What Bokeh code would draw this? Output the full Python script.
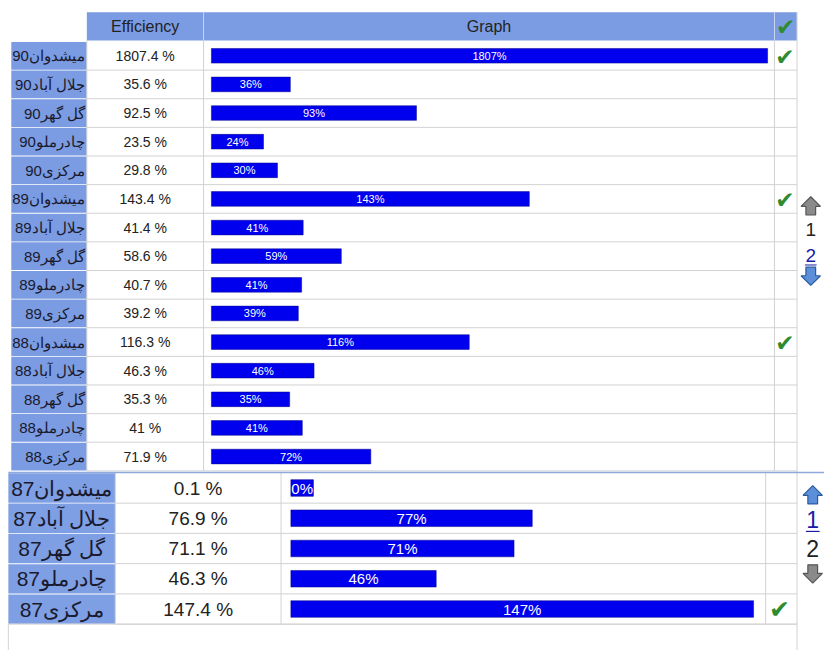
import numpy as np
from bokeh.plotting import figure
from bokeh.models import Range1d, ColumnDataSource
from bokeh.core.properties import value
from bokeh.embed import file_html
from bokeh.resources import INLINE

# ---------------- data ----------------
mines = ["میشدوان", "جلال آباد", "گل گهر", "چادرملو", "مرکزی"]
top_years = [90, 89, 88]
top_eff = [1807.4, 35.6, 92.5, 23.5, 29.8,
           143.4, 41.4, 58.6, 40.7, 39.2,
           116.3, 46.3, 35.3, 41.0, 71.9]
bottom_year = 87
bottom_eff = [0.1, 76.9, 71.1, 46.3, 147.4]
headers = ["Efficiency", "Graph"]
page_labels = ["1", "2"]


def pct(v):
    return f"{int(np.floor(v + 0.5))}%"


# ---------------- layout ----------------
W, H = 824, 650
XMAX, YMAX = 840, 666
p = figure(width=W, height=H, x_range=Range1d(0, XMAX), y_range=Range1d(YMAX, 0),
           output_backend="svg", toolbar_location=None, min_border=0,
           x_axis_location=None, y_axis_location=None)
p.grid.visible = False
p.outline_line_color = None
p.background_fill_color = "white"
p.border_fill_color = "white"

FONT = value("Liberation Sans")
BLUE_BG = "#7b9ce2"
GRID = "#d2d2d2"
BAR = "#0000ee"
TXT = "#222222"
CHECK = "#2e8b2e"

# ---- top table geometry
t_lab0, t_lab1 = 11, 88
t_eff1 = 207
t_chk0, t_chk1 = 789, 812
t_head0, t_head1 = 12, 41
t_row0 = 42
t_rh = 29.33
t_bar0, t_barmax, t_scale = 215, 567, 2.26

n_top = len(top_eff)
t_labels = [m + str(y) for y in top_years for m in mines]
t_cy = t_row0 + t_rh * (np.arange(n_top) + 0.5)
t_end = t_row0 + t_rh * n_top

# header background
p.quad(left=[t_lab1], right=[t_chk1], top=[t_head0], bottom=[t_head1],
       fill_color=BLUE_BG, line_color=None)
p.segment(x0=[t_eff1, t_chk0], x1=[t_eff1, t_chk0], y0=[t_head0] * 2, y1=[t_head1] * 2,
          line_color="#c9d6f0", line_width=1)
p.text(x=[(t_lab1 + t_eff1) / 2, (t_eff1 + t_chk0) / 2], y=[(t_head0 + t_head1) / 2] * 2,
       text=headers, text_align="center", text_baseline="middle",
       text_font=FONT, text_font_size="16px", text_color=TXT)
p.text(x=[(t_chk0 + t_chk1) / 2], y=[(t_head0 + t_head1) / 2 + 1], text=["✔"],
       text_align="center", text_baseline="middle", text_font=value("DejaVu Sans"),
       text_font_size="23px", text_color=CHECK)

# label cells
p.rect(x=[(t_lab0 + t_lab1) / 2] * n_top, y=t_cy, width=t_lab1 - t_lab0, height=t_rh - 1,
       fill_color=BLUE_BG, line_color=None)
# grid lines
sep_y = t_row0 + t_rh * np.arange(1, n_top + 1)
p.segment(x0=[t_lab1] * n_top, x1=[t_chk1] * n_top, y0=sep_y, y1=sep_y,
          line_color=GRID, line_width=1)
p.segment(x0=[t_lab1, t_eff1, t_chk0], x1=[t_lab1, t_eff1, t_chk0],
          y0=[t_head1] * 3, y1=[t_end] * 3, line_color=GRID, line_width=1)
p.segment(x0=[t_chk1], x1=[t_chk1], y0=[t_head0], y1=[YMAX], line_color=GRID, line_width=1)

p.text(x=[t_lab1 - 2] * n_top, y=t_cy, text=t_labels, text_align="right",
       text_baseline="middle", text_font=FONT, text_font_size="15px", text_color="#1a1a2e")
p.text(x=[(t_lab1 + t_eff1) / 2] * n_top, y=t_cy,
       text=[f"{v:g} %" for v in top_eff], text_align="center", text_baseline="middle",
       text_font=FONT, text_font_size="14px", text_color=TXT)

t_w = np.minimum(np.array(top_eff) * t_scale, t_barmax)
t_src = ColumnDataSource(dict(y=t_cy, left=[t_bar0] * n_top, right=t_bar0 + t_w,
                              mid=t_bar0 + t_w / 2,
                              lab=[pct(v) for v in top_eff]))
p.hbar(y="y", left="left", right="right", height=15, source=t_src,
       fill_color=BAR, line_color="#00008a", line_width=0.5)
p.text(x="mid", y="y", text="lab", source=t_src, text_align="center",
       text_baseline="middle", text_font=FONT, text_font_size="11px", text_color="white")

t_chk = [c for c, v in zip(t_cy, top_eff) if v >= 100]
p.text(x=[(t_chk0 + t_chk1) / 2 - 1] * len(t_chk), y=[c + 1 for c in t_chk],
       text=["✔"] * len(t_chk), text_align="center", text_baseline="middle",
       text_font=value("DejaVu Sans"), text_font_size="23px", text_color=CHECK)

# ---- bottom table geometry
b_lab0, b_lab1 = 8, 117
b_eff1 = 286
b_chk0, b_chk1 = 780, 812
b_row0 = 484
b_rh = 31
b_bar0, b_scale, b_minw = 296, 3.2, 23

n_b = len(bottom_eff)
b_labels = [m + str(bottom_year) for m in mines]
b_cy = b_row0 + b_rh * (np.arange(n_b) + 0.5)
b_end = b_row0 + b_rh * n_b

p.rect(x=[(b_lab0 + b_lab1) / 2] * n_b, y=b_cy, width=b_lab1 - b_lab0, height=b_rh - 1,
       fill_color="#7f9fe4", line_color=None)
b_sep = b_row0 + b_rh * np.arange(1, n_b + 1)
p.segment(x0=[b_lab1] * n_b, x1=[b_chk1] * n_b, y0=b_sep, y1=b_sep,
          line_color=GRID, line_width=1)
p.segment(x0=[b_lab0], x1=[b_chk1], y0=[b_end], y1=[b_end], line_color=GRID, line_width=1)
p.segment(x0=[b_lab1, b_eff1, b_chk0], x1=[b_lab1, b_eff1, b_chk0],
          y0=[b_row0] * 3, y1=[b_end] * 3, line_color=GRID, line_width=1)
p.segment(x0=[b_lab0], x1=[b_lab0], y0=[b_end], y1=[YMAX], line_color=GRID, line_width=1)
p.segment(x0=[b_lab0], x1=[XMAX], y0=[b_row0 - 0.5], y1=[b_row0 - 0.5],
          line_color="#8fa9dc", line_width=1.5)

p.text(x=[(b_lab0 + b_lab1) / 2] * n_b, y=b_cy, text=b_labels, text_align="center",
       text_baseline="middle", text_font=FONT, text_font_size="21px", text_color="#1a1a2e")
p.text(x=[(b_lab1 + b_eff1) / 2] * n_b, y=b_cy,
       text=[f"{v:g} %" for v in bottom_eff], text_align="center", text_baseline="middle",
       text_font=FONT, text_font_size="19px", text_color=TXT)

b_w = np.maximum(np.array(bottom_eff) * b_scale, b_minw)
b_src = ColumnDataSource(dict(y=b_cy, left=[b_bar0] * n_b, right=b_bar0 + b_w,
                              mid=b_bar0 + b_w / 2,
                              lab=[pct(v) for v in bottom_eff]))
p.hbar(y="y", left="left", right="right", height=17, source=b_src,
       fill_color=BAR, line_color="#00008a", line_width=0.5)
p.text(x="mid", y="y", text="lab", source=b_src, text_align="center",
       text_baseline="middle", text_font=FONT, text_font_size="15px", text_color="white")

b_chk = [c for c, v in zip(b_cy, bottom_eff) if v >= 100]
p.text(x=[(b_chk0 + b_chk1) / 2 - 2] * len(b_chk), y=[c + 1 for c in b_chk],
       text=["✔"] * len(b_chk), text_align="center", text_baseline="middle",
       text_font=value("DejaVu Sans"), text_font_size="25px", text_color=CHECK)

# ---- pagers
def arrow(cx, cy, up, s=1.1):
    hw, hh, sw, sh = 9 * s, 9 * s, 4.5 * s, 8 * s
    sgn = -1 if up else 1
    xs = [cx, cx + hw, cx + sw, cx + sw, cx - sw, cx - sw, cx - hw]
    ys = [cy + sgn * hh, cy, cy, cy - sgn * sh, cy - sgn * sh, cy, cy]
    return xs, ys


GRAY_F, GRAY_L = "#8a8a8a", "#555555"
BLUE_F, BLUE_L = "#5b8fd9", "#2c5b9c"
arrows = [(826, 211, True, GRAY_F, GRAY_L), (826, 282, False, BLUE_F, BLUE_L),
          (828, 507, True, BLUE_F, BLUE_L), (828, 587, False, GRAY_F, GRAY_L)]
axs, ays, afs, als = [], [], [], []
for cx, cy, up, f, l in arrows:
    xs, ys = arrow(cx, cy, up)
    axs.append(xs); ays.append(ys); afs.append(f); als.append(l)
p.patches(xs=axs, ys=ays, fill_color=afs, line_color=als, line_width=1.2)

p.text(x=[826, 826], y=[235, 261], text=page_labels, text_align="center",
       text_baseline="middle", text_font=FONT, text_font_size="19px",
       text_color=["#222222", "#1a1aa8"])
p.segment(x0=[820], x1=[832], y0=[271], y1=[271], line_color="#1a1aa8", line_width=1)
p.text(x=[828, 828], y=[532, 561], text=page_labels, text_align="center",
       text_baseline="middle", text_font=FONT, text_font_size="23px",
       text_color=["#1a1aa8", "#222222"])
p.segment(x0=[821], x1=[835], y0=[544], y1=[544], line_color="#1a1aa8", line_width=1.2)

open("out.html", "w").write(file_html(p, INLINE))
